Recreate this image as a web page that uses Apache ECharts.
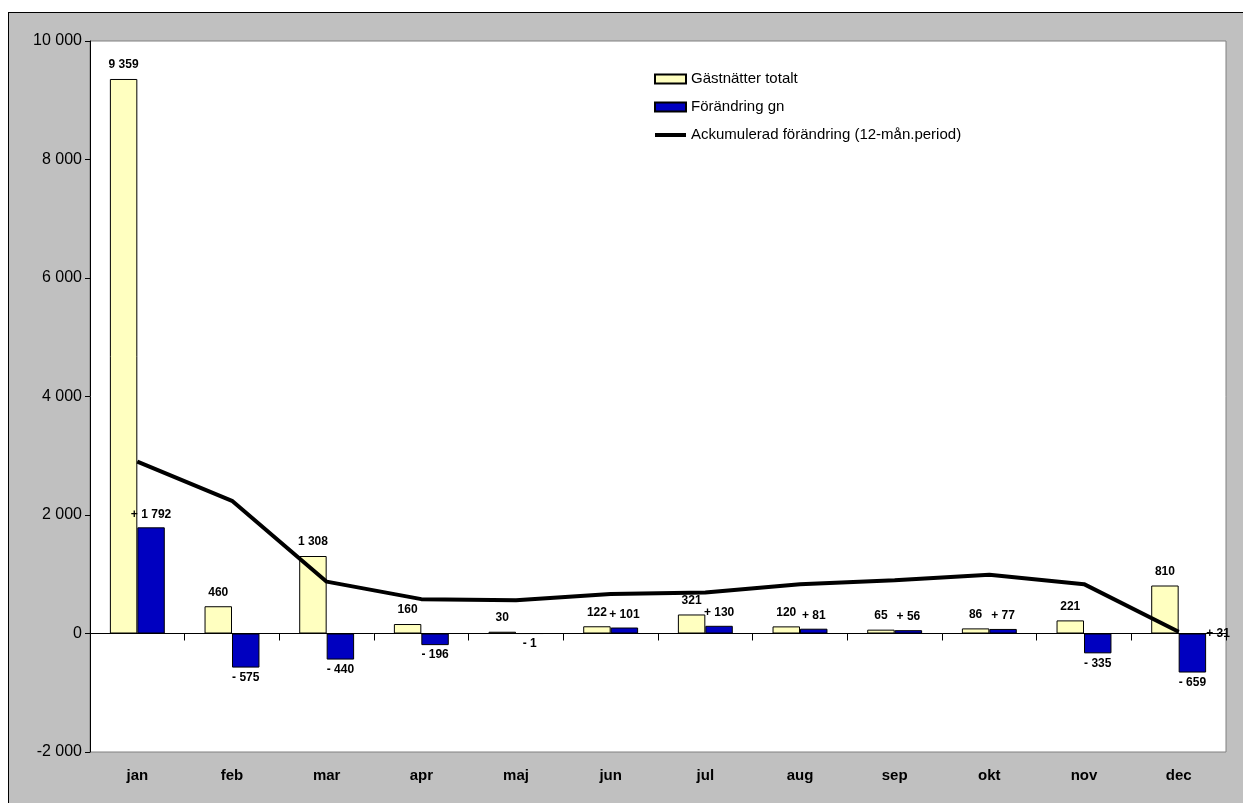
<!DOCTYPE html>
<html>
<head>
<meta charset="utf-8">
<script src="https://cdn.jsdelivr.net/npm/echarts@6/dist/echarts.min.js"></script>
<style>
  html, body { margin: 0; padding: 0; background: #ffffff; }
  #wrap { position: relative; width: 1243px; height: 803px; overflow: hidden; background: #ffffff; }
  #frame { position: absolute; left: 8px; top: 12px; width: 1300px; height: 900px; background: #c0c0c0; border: 1px solid #000; }
  #chart { position: absolute; left: 0; top: 0; width: 1243px; height: 803px; }
</style>
</head>
<body>
<div id="wrap">
  <div id="frame"></div>
  <div id="chart"></div>
</div>
<script>
const categories = ['jan', 'feb', 'mar', 'apr', 'maj', 'jun', 'jul', 'aug', 'sep', 'okt', 'nov', 'dec'];
const gastnatterTotalt = [9359, 460, 1308, 160, 30, 122, 321, 120, 65, 86, 221, 810];
const forandringGn = [1792, -575, -440, -196, -1, 101, 130, 81, 56, 77, -335, -659];
const ackumuleradForandring = [2900, 2240, 875, 580, 562, 668, 692, 833, 900, 990, 833, 31];
const yMin = -2000, yMax = 10000, yStep = 2000;
const seriesNames = ['Gästnätter totalt', 'Förändring gn', 'Ackumulerad förändring (12-mån.period)'];

const FONT = 'Arial, "Liberation Sans", sans-serif';
function fmt(v) { return String(Math.abs(v)).replace(/\B(?=(\d{3})+(?!\d))/g, ' '); }
function signed(v) { return (v >= 0 ? '+ ' : '- ') + fmt(v); }
const lblBase = { show: true, color: '#000', fontFamily: FONT, fontWeight: 'bold', fontSize: 12 };

const chart = echarts.init(document.getElementById('chart'), null, { renderer: 'canvas' });
chart.setOption({
  backgroundColor: 'transparent',
  animation: false,
  textStyle: { fontFamily: FONT },
  grid: { left: 90, right: 17, top: 41, bottom: 51, show: true, backgroundColor: '#ffffff', borderColor: '#808080', borderWidth: 1 },
  legend: {
    orient: 'vertical', left: 649, top: 66,
    itemWidth: 31, itemHeight: 9, itemGap: 12,
    textStyle: { fontFamily: FONT, fontSize: 15, color: '#000', lineHeight: 16 },
    data: [
      { name: seriesNames[0], icon: 'rect' },
      { name: seriesNames[1], icon: 'rect' },
      { name: seriesNames[2], icon: 'path://M0,0 L31,0 L31,4 L0,4 Z', itemStyle: { color: '#000', borderWidth: 0 } }
    ]
  },
  xAxis: [
    {
      type: 'category', data: categories, position: 'bottom',
      axisLine: { show: false, onZero: false }, axisTick: { show: false },
      axisLabel: { color: '#000', fontFamily: FONT, fontWeight: 'bold', fontSize: 15, margin: 16 }
    },
    {
      type: 'category', data: categories, position: 'bottom',
      axisLine: { show: true, onZero: true, lineStyle: { color: '#000', width: 1 } },
      axisTick: { show: true, length: 7, lineStyle: { color: '#000' } },
      axisLabel: { show: false }
    }
  ],
  yAxis: {
    type: 'value', min: yMin, max: yMax, interval: yStep,
    splitLine: { show: false },
    axisLine: { show: true, lineStyle: { color: '#000', width: 1 } },
    axisTick: { show: true, length: 5, lineStyle: { color: '#000' } },
    axisLabel: { color: '#000', fontFamily: FONT, fontSize: 16, margin: 8, formatter: v => (v < 0 ? '-' : '') + fmt(v) }
  },
  series: [
    {
      name: seriesNames[0], type: 'bar', xAxisIndex: 0,
      barGap: '0%', barCategoryGap: '42%',
      itemStyle: { color: '#ffffc0', borderColor: '#000', borderWidth: 1 },
      label: Object.assign({}, lblBase, { position: 'top', distance: 8, formatter: p => fmt(p.value) }),
      data: gastnatterTotalt
    },
    {
      name: seriesNames[1], type: 'bar', xAxisIndex: 0,
      barGap: '0%', barCategoryGap: '42%',
      itemStyle: { color: '#0000c0', borderColor: '#000', borderWidth: 1 },
      data: forandringGn.map(v => ({
        value: v,
        label: Object.assign({}, lblBase, { position: v >= 0 ? 'top' : 'bottom', distance: v >= 0 ? 7 : 4, formatter: p => signed(p.value) })
      }))
    },
    {
      name: seriesNames[2], type: 'line', xAxisIndex: 0,
      symbol: 'circle', symbolSize: 1, showSymbol: true,
      lineStyle: { color: '#000', width: 4 },
      itemStyle: { color: '#000' },
      z: 5,
      data: ackumuleradForandring.map((v, i) => i === ackumuleradForandring.length - 1
        ? { value: v, label: Object.assign({}, lblBase, { position: 'right', distance: 27, offset: [0, 2], formatter: p => signed(p.value) }) }
        : v)
    }
  ]
});
</script>
</body>
</html>
